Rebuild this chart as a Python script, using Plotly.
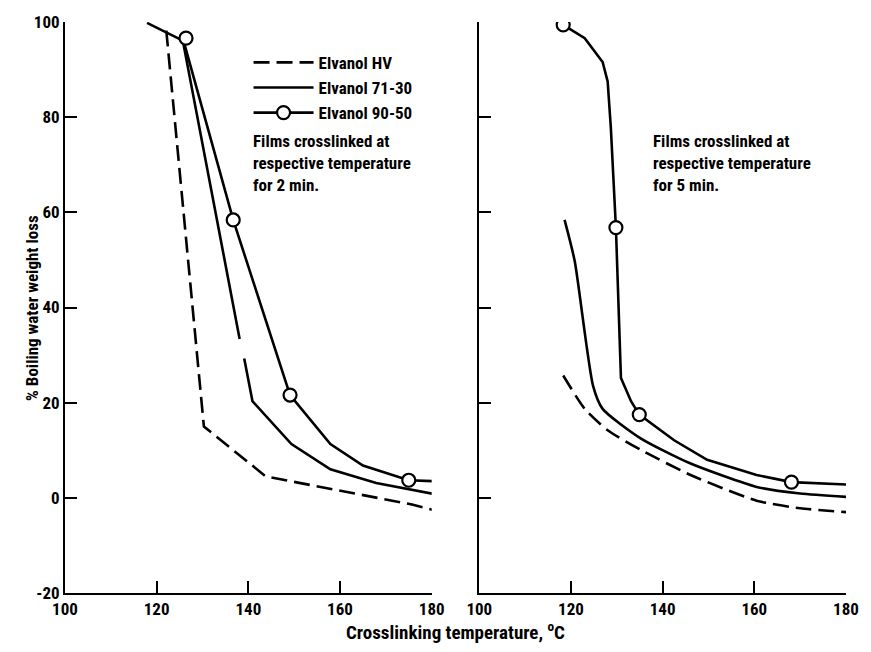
import plotly.graph_objects as go

# ---- data ----
# Left panel: films crosslinked 2 min
hv2_x = [122.1, 130.3, 143.8, 157.9, 175.7, 180.6]
hv2_y = [98.2, 15.0, 4.5, 1.9, -1.4, -2.6]
e7130_2_x = [117.9, 125.7, 138.1, None, 139.1, 140.9, 149.4, 157.9, 167.9, 180.6]
e7130_2_y = [99.8, 96.1, 33.4, None, 29.3, 20.3, 11.3, 6.0, 3.1, 0.8]
e9050_2_x = [125.7, 136.7, 149.1, 157.9, 165.0, 175.0, 180.6]
e9050_2_y = [96.6, 58.4, 21.6, 11.3, 6.8, 3.7, 3.5]
e9050_2_mx = [126.4, 136.7, 149.1, 175.0]
e9050_2_my = [96.6, 58.4, 21.6, 3.7]

# Right panel: films crosslinked 5 min
hv5_x = [118.3, 123.0, 128.0, 135.2, 146.1, 160.5, 170.0, 180.0]
hv5_y = [25.7, 18.7, 14.2, 10.1, 4.8, -0.6, -2.2, -3.0]
e7130_5_x = [118.6, 120.8, 124.8, 126.9, 135.2, 146.1, 160.5, 170.0, 180.0]
e7130_5_y = [58.4, 49.8, 23.6, 18.7, 12.5, 7.2, 2.3, 0.9, 0.2]
e9050_5_x = [118.3, 123.0, 126.9, 128.0, 128.7, 129.8, 130.9, 133.1, 134.9, 142.5, 149.7, 160.5, 168.1, 180.0]
e9050_5_y = [99.4, 96.6, 91.6, 87.5, 77.7, 56.8, 25.2, 20.3, 17.5, 12.1, 8.0, 4.8, 3.3, 2.8]
e9050_5_mx = [118.3, 129.8, 134.9, 168.1]
e9050_5_my = [99.4, 56.8, 17.5, 3.3]

x_ticks = [100, 120, 140, 160, 180]
y_ticks = [-20, 0, 20, 40, 60, 80, 100]
y_ticktext = ["-20", "0", "20", "40", "60", "80", "100"]

names = ["Elvanol HV", "Elvanol 71-30", "Elvanol 90-50"]
note_left = "Films crosslinked at<br>respective temperature<br>for 2 min."
note_right = "Films crosslinked at<br>respective temperature<br>for 5 min."

FONT = "Roboto Condensed, Liberation Sans Narrow, Roboto, sans-serif"
LW = 2.6
DASH = "16px,7px"

fig = go.Figure()

def add_panel(xa, ya, hvx, hvy, ax, ay, bx, by, bmx, bmy, legend, shape):
    fig.add_trace(go.Scatter(x=hvx, y=hvy, mode="lines", name="<b>" + names[0] + "</b>",
                             line=dict(color="black", width=LW, dash=DASH, shape=shape,
                                       smoothing=0.6),
                             xaxis=xa, yaxis=ya, showlegend=legend))
    fig.add_trace(go.Scatter(x=ax, y=ay, mode="lines", name="<b>" + names[1] + "</b>",
                             line=dict(color="black", width=LW, shape=shape, smoothing=0.6),
                             xaxis=xa, yaxis=ya, showlegend=legend, connectgaps=False))
    fig.add_trace(go.Scatter(x=bx, y=by, mode="lines", name="<b>" + names[2] + "</b>",
                             line=dict(color="black", width=LW),
                             xaxis=xa, yaxis=ya, showlegend=False))
    fig.add_trace(go.Scatter(x=bmx, y=bmy, mode="markers", name="<b>" + names[2] + "</b>",
                             marker=dict(symbol="circle", size=13, color="white",
                                         line=dict(color="black", width=2.2)),
                             xaxis=xa, yaxis=ya, showlegend=False))
    if legend:
        fig.add_trace(go.Scatter(x=[None], y=[None], mode="lines+markers",
                                 name="<b>" + names[2] + "</b>",
                                 line=dict(color="black", width=LW),
                                 marker=dict(symbol="circle", size=13, color="white",
                                             line=dict(color="black", width=2.2)),
                                 xaxis=xa, yaxis=ya, showlegend=True))

add_panel("x", "y", hv2_x, hv2_y, e7130_2_x, e7130_2_y, e9050_2_x, e9050_2_y,
          e9050_2_mx, e9050_2_my, True, "linear")
add_panel("x2", "y2", hv5_x, hv5_y, e7130_5_x, e7130_5_y, e9050_5_x, e9050_5_y,
          e9050_5_mx, e9050_5_my, False, "spline")

axis_common = dict(showline=True, linecolor="black", linewidth=2, mirror=False,
                   showgrid=False, zeroline=False, ticks="inside", tickcolor="black",
                   tickwidth=2, ticklen=12,
                   tickfont=dict(family=FONT, size=17, color="black"))

fig.update_layout(
    width=871, height=652,
    margin=dict(l=65, r=18, t=20, b=59),
    paper_bgcolor="white", plot_bgcolor="white",
    font=dict(family=FONT, size=17, color="black"),
    xaxis=dict(domain=[0, 0.4695], range=[100, 180], tickvals=x_ticks,
               ticktext=["<b>%d</b>" % v for v in x_ticks], **axis_common),
    yaxis=dict(domain=[0, 1], range=[-20, 100], tickvals=y_ticks,
               ticktext=["<b>%s</b>" % t for t in y_ticktext], **axis_common),
    xaxis2=dict(domain=[0.5305, 1], range=[100, 180], tickvals=x_ticks,
                ticktext=["<b>%d</b>" % v for v in x_ticks], **axis_common),
    yaxis2=dict(domain=[0, 1], range=[-20, 100], tickvals=y_ticks, showticklabels=False,
                anchor="x2", **axis_common),
    legend=dict(x=0.235, y=0.96, xanchor="left", yanchor="top", traceorder="normal",
                bgcolor="rgba(0,0,0,0)", font=dict(family=FONT, size=17),
                tracegroupgap=0, itemwidth=60),
    showlegend=True,
)

fig.add_annotation(x=140.5, y=77.5, xref="x", yref="y", text="<b>" + note_left + "</b>",
                   showarrow=False, xanchor="left", yanchor="top", align="left",
                   font=dict(family=FONT, size=17))
fig.add_annotation(x=137.5, y=77.5, xref="x2", yref="y2", text="<b>" + note_right + "</b>",
                   showarrow=False, xanchor="left", yanchor="top", align="left",
                   font=dict(family=FONT, size=17))
fig.add_annotation(x=0.5, y=-0.068, xref="paper", yref="paper",
                   text="<b>Crosslinking temperature, <sup>o</sup>C</b>",
                   showarrow=False, xanchor="center", yanchor="middle",
                   font=dict(family=FONT, size=19))
fig.add_annotation(x=-0.043, y=0.5, xref="paper", yref="paper",
                   text="<b>% Boiling water weight loss</b>", textangle=-90,
                   showarrow=False, xanchor="center", yanchor="middle",
                   font=dict(family=FONT, size=17))

fig.write_html("out.html")
